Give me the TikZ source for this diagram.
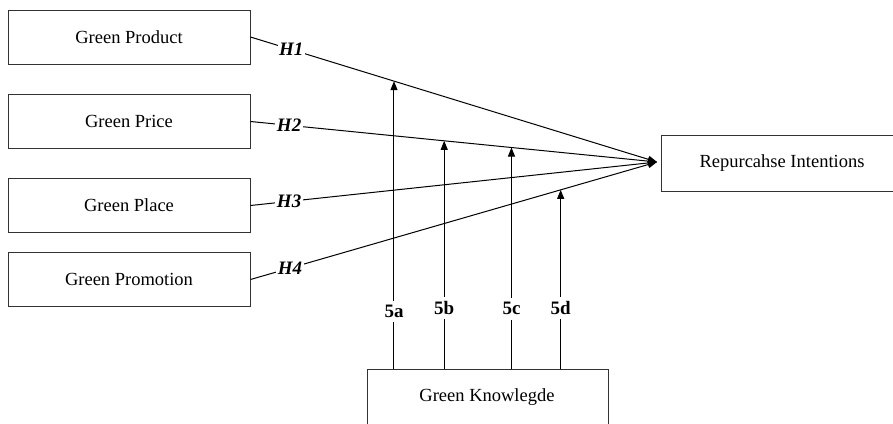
\documentclass[tikz,border=0pt]{standalone}
\usepackage{fontspec}
\setmainfont{Liberation Serif}
\usetikzlibrary{arrows.meta,calc}
\begin{document}
\begin{tikzpicture}[x=1pt,y=-1pt,
  box/.style={draw=black!80,line width=1pt,minimum width=242pt,minimum height=54pt,inner sep=0pt,font=\fontsize{18.5}{20}\selectfont},
  link/.style={line width=1pt,-{Triangle[width=7pt,length=9pt]}},
  hlab/.style={fill=white,inner sep=1.5pt,font=\fontsize{19}{20}\selectfont\bfseries\itshape},
  mlab/.style={fill=white,inner xsep=2pt,inner ysep=4.5pt,font=\fontsize{19}{20}\selectfont\bfseries}]
\useasboundingbox (0,0) rectangle (893,423);
\node[box] (prod) at (129,37) {Green Product};
\node[box] (price) at (129,121.5) {Green Price};
\node[box] (place) at (129,205.5) {Green Place};
\node[box] (promo) at (129,279.5) {Green Promotion};
\node[box,minimum width=237pt,minimum height=56pt,anchor=north west] (rep) at (661,135) {};
\node[font=\fontsize{18.5}{20}\selectfont] (reptext) at (782,163) {Repurcahse Intentions};
\node[box,minimum width=241pt,minimum height=60pt,anchor=north west] (know) at (367,369) {};
\node[font=\fontsize{18.5}{20}\selectfont] (knowtext) at (487,397) {Green Knowlegde};
\coordinate (conv) at (657,162);
\draw[link] (prod.east) -- node[hlab,pos=0.1] {H1} (conv);
\draw[link] (price.east) -- node[hlab,pos=0.095] {H2} (conv);
\draw[link] (place.east) -- node[hlab,pos=0.095] {H3} (conv);
\draw[link] (promo.east) -- node[hlab,pos=0.097] {H4} (conv);
\coordinate (m1) at ($(prod.east)!0.353!(conv)$);
\coordinate (m2) at ($(price.east)!0.4765!(conv)$);
\coordinate (m3) at ($(price.east)!0.642!(conv)$);
\coordinate (m4) at ($(promo.east)!0.763!(conv)$);
\draw[link] (m1 |- know.north) -- node[mlab,pos=0.2] {5a} (m1);
\draw[link] (m2 |- know.north) -- node[mlab,pos=0.266] {5b} (m2);
\draw[link] (m3 |- know.north) -- node[mlab,pos=0.272] {5c} (m3);
\draw[link] (m4 |- know.north) -- node[mlab,pos=0.34] {5d} (m4);
\end{tikzpicture}
\end{document}
